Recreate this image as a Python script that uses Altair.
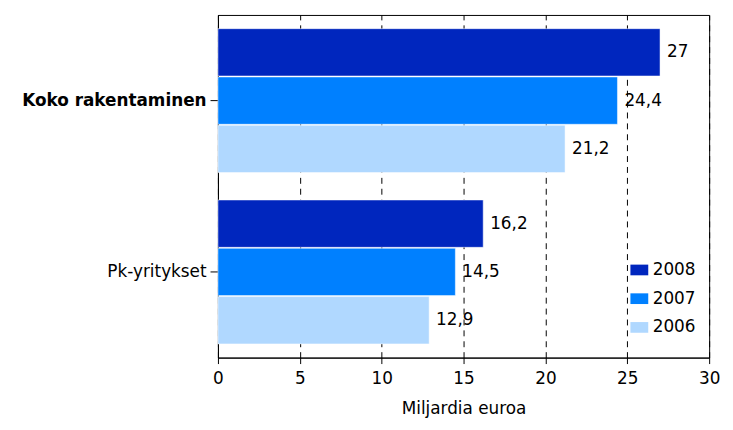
import altair as alt
import pandas as pd

categories = ["Koko rakentaminen", "Koko rakentaminen", "Koko rakentaminen",
              "Pk-yritykset", "Pk-yritykset", "Pk-yritykset"]
years = ["2008", "2007", "2006", "2008", "2007", "2006"]
values = [27, 24.4, 21.2, 16.2, 14.5, 12.9]
labels = ["27", "24,4", "21,2", "16,2", "14,5", "12,9"]

year_order = ["2008", "2007", "2006"]
colors = ["#0026BE", "#0080FF", "#B0D8FF"]
cat_order = ["Koko rakentaminen", "Pk-yritykset"]

df = pd.DataFrame({"cat": categories, "year": years, "value": values, "label": labels})

FONT = "DejaVu Sans"
FS = 17

y_enc = alt.Y("cat:N", sort=cat_order, title=None,
              scale=alt.Scale(paddingInner=0.16, paddingOuter=0.08),
              axis=alt.Axis(labelFontSize=FS, labelColor="black", labelFont=FONT,
                            labelFontWeight=alt.expr("datum.value == 'Koko rakentaminen' ? 'bold' : 'normal'"),
                            tickColor="black", tickSize=8, domainColor="black",
                            labelPadding=4, minExtent=207, maxExtent=207, labelLimit=300))
yoff = alt.YOffset("year:N", sort=year_order, scale=alt.Scale(paddingInner=0.02))

bars = alt.Chart(df).mark_bar(stroke="white", strokeWidth=0.5).encode(
    x=alt.X("value:Q", scale=alt.Scale(domain=[0, 30]), title="Miljardia euroa",
            axis=alt.Axis(values=[0, 5, 10, 15, 20, 25, 30], grid=True,
                          gridColor="black", gridDash=[6, 5], gridOpacity=1,
                          labelFontSize=FS, labelFont=FONT, labelColor="black",
                          labelFlush=False,
                          titleFont=FONT, titleFontSize=FS, titleFontWeight="normal",
                          titleColor="black", titlePadding=14,
                          tickColor="black", tickSize=6, domainColor="black",
                          labelPadding=7)),
    y=y_enc,
    yOffset=yoff,
    color=alt.Color("year:N", sort=year_order,
                    scale=alt.Scale(domain=year_order, range=colors),
                    legend=alt.Legend(title=None, orient="none", legendX=417, legendY=249,
                                      labelFontSize=FS, labelFont=FONT, labelColor="black",
                                      symbolType="M-1.5,-0.9H1.5V0.9H-1.5Z", symbolSize=144,
                                      symbolStrokeWidth=0, symbolOpacity=1,
                                      rowPadding=11, labelOffset=5)),
)

text = alt.Chart(df).mark_text(align="left", baseline="middle", dx=7, fontSize=FS,
                               font=FONT, color="black").encode(
    x="value:Q",
    y=alt.Y("cat:N", sort=cat_order),
    yOffset=yoff,
    text="label:N",
)

chart = alt.layer(bars, text).properties(width=496, height=346).configure_view(
    stroke="black", strokeWidth=1
)

chart.save("out.html", embed_options={"renderer": "svg", "actions": False})
